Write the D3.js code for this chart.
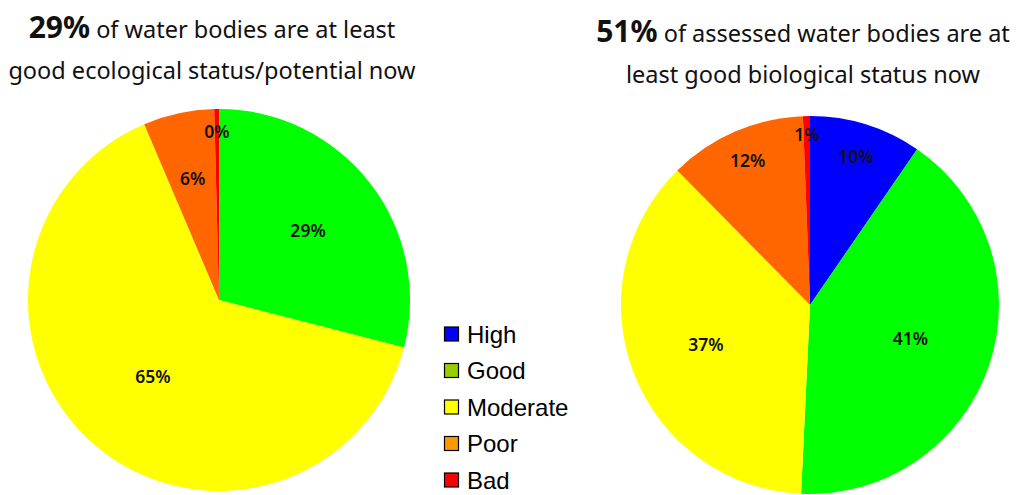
<!DOCTYPE html>
<html>
<head>
<meta charset="utf-8">
<script src="https://cdn.jsdelivr.net/npm/d3@7"></script>
<style>
  html, body { margin: 0; padding: 0; background: #fff; }
  svg { display: block; }
</style>
</head>
<body>
<svg id="chart" width="1036" height="495"></svg>
<script>
// Status classes, in legend order
const categories = ["High", "Good", "Moderate", "Poor", "Bad"];

// Share of water bodies (%) in each class
const ecologicalShares = [0, 29.0, 64.6, 6.0, 0.4];
const biologicalShares = [9.6, 41.2, 36.9, 11.8, 0.6];

// Headline figures
const ecologicalHeadline = "29%";
const biologicalHeadline = "51%";
const ecologicalTitle = ["of water bodies are at least", "good ecological status/potential now"];
const biologicalTitle = ["of assessed water bodies are at", "least good biological status now"];

// Colours
const sliceColors = ["#0000ff", "#00ff00", "#ffff00", "#ff6600", "#ff0000"];
const legendColors = ["#0000ff", "#99cc00", "#ffff00", "#ff9900", "#ff0000"];

// Label distance from centre, as a fraction of the radius
const ecologicalLabelRadius = [0.6, 0.59, 0.53, 0.65, 0.88];
const biologicalLabelRadius = [0.82, 0.56, 0.59, 0.83, 0.90];

const svg = d3.select("#chart");
const textFont = "'Noto Sans', 'Open Sans', sans-serif";

const pie = d3.pie().sort(null).value(d => d.value);
const fmt = v => Math.round(v) + "%";

function drawPie(cx, cy, r, shares, labelRadius) {
  const data = categories.map((c, i) => ({ category: c, value: shares[i], i }));
  const arcs = pie(data);
  const g = svg.append("g").attr("transform", `translate(${cx},${cy})`);
  const arc = d3.arc().innerRadius(0).outerRadius(r);

  g.selectAll("path.slice")
    .data(arcs.filter(a => a.data.value > 0))
    .join("path")
    .attr("class", "slice")
    .attr("d", arc)
    .attr("fill", a => sliceColors[a.data.i]);

  g.selectAll("text.value")
    .data(arcs.filter(a => a.data.value > 0))
    .join("text")
    .attr("class", "value")
    .attr("transform", a => {
      const k = r * labelRadius[a.data.i];
      const c = d3.arc().innerRadius(k).outerRadius(k).centroid(a);
      return `translate(${c[0]},${c[1]})`;
    })
    .attr("text-anchor", "middle")
    .attr("dy", "0.35em")
    .attr("font-family", textFont)
    .attr("font-weight", 600)
    .attr("font-size", 17.5)
    .attr("fill", "#111")
    .text(a => fmt(a.data.value));
}

function drawTitle(cx, y1, y2, headline, lines) {
  const t1 = svg.append("text")
    .attr("x", cx).attr("y", y1)
    .attr("text-anchor", "middle")
    .attr("font-family", textFont)
    .attr("fill", "#111");
  t1.append("tspan").attr("font-weight", 700).attr("font-size", 30).text(headline);
  t1.append("tspan").attr("font-size", 23.5).text(" " + lines[0]);
  svg.append("text")
    .attr("x", cx).attr("y", y2)
    .attr("text-anchor", "middle")
    .attr("font-family", textFont)
    .attr("font-size", 23.5)
    .attr("fill", "#111")
    .text(lines[1]);
}

drawPie(219, 300, 191, ecologicalShares, ecologicalLabelRadius);
drawPie(810, 305, 189, biologicalShares, biologicalLabelRadius);

drawTitle(212, 38, 79, ecologicalHeadline, ecologicalTitle);
drawTitle(803, 42, 83, biologicalHeadline, biologicalTitle);

// Legend
const legendY = d3.scalePoint().domain(categories).range([334, 480]);
const legend = svg.append("g");
const item = legend.selectAll("g.item")
  .data(categories)
  .join("g")
  .attr("class", "item")
  .attr("transform", c => `translate(444,${legendY(c)})`);
item.append("rect")
  .attr("x", 0.5).attr("y", -7)
  .attr("width", 14).attr("height", 14)
  .attr("fill", (c, i) => legendColors[i])
  .attr("stroke", "#000")
  .attr("stroke-width", 1.2);
item.append("text")
  .attr("x", 23).attr("dy", "0.36em")
  .attr("font-family", "'Liberation Sans', Arial, sans-serif")
  .attr("font-size", 24)
  .attr("fill", "#000")
  .text(c => c);
</script>
</body>
</html>
